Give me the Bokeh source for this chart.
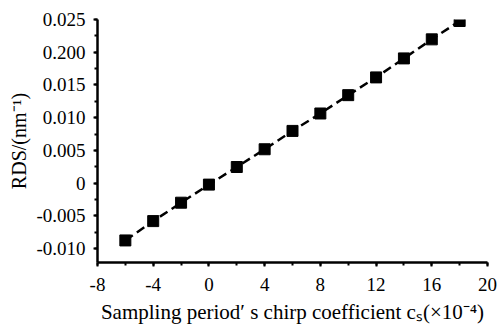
from bokeh.plotting import figure
from bokeh.models import FixedTicker, Range1d
from bokeh.embed import file_html
from bokeh.resources import INLINE

# ---- data ----
chirp_coeff = [-6, -4, -2, 0, 2, 4, 6, 8, 10, 12, 14, 16, 18]
rds = [-0.00873, -0.00578, -0.00297, -0.00021, 0.00248, 0.00519, 0.00799,
       0.01065, 0.01345, 0.01616, 0.01906, 0.02197, 0.02477]
x_ticks = [-8, -4, 0, 4, 8, 12, 16, 20]
x_tick_labels = ["-8", "-4", "0", "4", "8", "12", "16", "20"]
y_ticks = [-0.010, -0.005, 0.0, 0.005, 0.010, 0.015, 0.020, 0.025]
y_tick_labels = ["-0.010", "-0.005", "0", "0.005", "0.010", "0.015", "0.200", "0.025"]
x_title = "Sampling period\u2032 s chirp coefficient c\u209b(\u00d710\u207b\u2074)"
y_title = "RDS/(nm\u207b\u00b9)"

FONT = "Liberation Serif"

p = figure(width=498, height=326, output_backend="svg", toolbar_location=None,
           x_range=Range1d(-8, 20), y_range=Range1d(-0.0121, 0.0250))
p.min_border_left = 97
p.min_border_right = 11
p.min_border_top = 19
p.min_border_bottom = 64
p.outline_line_color = None
p.xgrid.visible = False
p.ygrid.visible = False
p.background_fill_color = "white"
p.border_fill_color = "white"

p.line(chirp_coeff, rds, line_color="black", line_width=2.5, line_dash="9 5")
p.scatter(chirp_coeff, rds, marker="square", size=11, fill_color="black", line_color="black")

for ax in (p.xaxis[0], p.yaxis[0]):
    ax.axis_line_width = 2.5
    ax.axis_line_color = "black"
    ax.major_tick_line_width = 2
    ax.minor_tick_line_width = 2
    ax.major_tick_in = 0
    ax.major_tick_out = 4
    ax.minor_tick_in = 0
    ax.minor_tick_out = 3
    ax.major_label_text_font = FONT
    ax.major_label_text_font_size = "19px"
    ax.major_label_text_color = "black"
    ax.axis_label_text_font = FONT
    ax.axis_label_text_font_style = "normal"
    ax.axis_label_text_color = "black"

p.xaxis.ticker = FixedTicker(ticks=x_ticks, minor_ticks=list(range(-8, 21, 2)))
p.xaxis.major_label_overrides = {t: s for t, s in zip(x_ticks, x_tick_labels)}
p.xaxis.major_label_standoff = 11
p.xaxis.axis_label = x_title
p.xaxis.axis_label_text_font_size = "21px"
p.xaxis.axis_label_standoff = 6

p.yaxis.ticker = FixedTicker(ticks=y_ticks,
                             minor_ticks=[-0.0125 + 0.0025 * i for i in range(16)])
p.yaxis.major_label_overrides = {t: s for t, s in zip(y_ticks, y_tick_labels)}
p.yaxis.major_label_standoff = 8
p.yaxis.axis_label = y_title
p.yaxis.axis_label_text_font_size = "20px"
p.yaxis.axis_label_standoff = 3

open("out.html", "w").write(file_html(p, INLINE))
